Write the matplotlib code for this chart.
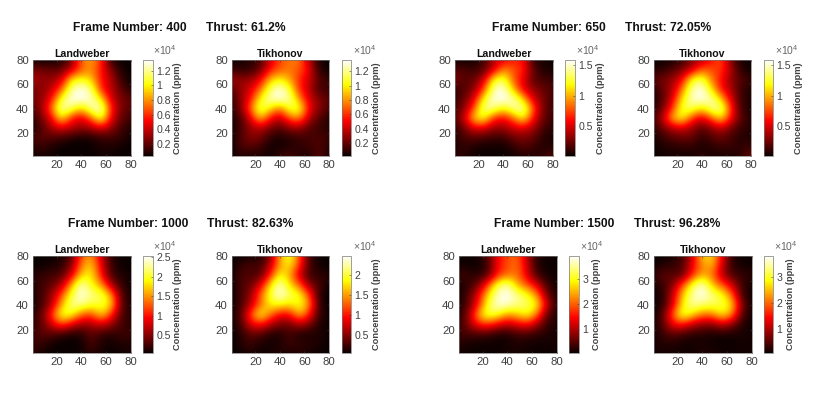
import numpy as np
import matplotlib
matplotlib.use("Agg")
import matplotlib.pyplot as plt

plt.rcParams['font.family'] = ['Liberation Sans', 'DejaVu Sans']
plt.rcParams['mathtext.default'] = 'regular'

W, H = 828, 393
GRAY = '#404040'

frames = ['Frame Number: 400', 'Frame Number: 650', 'Frame Number: 1000', 'Frame Number: 1500']
thrusts = ['Thrust: 61.2%', 'Thrust: 72.05%', 'Thrust: 82.63%', 'Thrust: 96.28%']
method_names = ['Landweber', 'Tikhonov']
axis_ticks = [20, 40, 60, 80]

# colour limits, units of 1e4 ppm
clims = [[(0.03, 1.35), (0.02, 1.36)], [(0.02, 1.58), (0.02, 1.58)],
         [(0.05, 2.53), (0.06, 2.46)], [(0.05, 3.93), (0.06, 3.80)]]
cticks = [[[0.2, 0.4, 0.6, 0.8, 1, 1.2]] * 2, [[0.5, 1, 1.5]] * 2,
          [[0.5, 1, 1.5, 2, 2.5], [0.5, 1, 1.5, 2]], [[1, 2, 3]] * 2]

# sampled every 8 units, rows y=80..0, columns x=0..80; percent of colour scale
grid_x = np.arange(0, 81, 8)
f400_L = [[2,2,2,5,15,55,62,45,5,2,2],[18,18,15,15,30,50,60,40,20,5,2],[28,22,22,30,72,78,68,40,28,8,3],
          [18,20,28,50,90,100,88,42,28,15,5],[18,22,38,80,100,100,95,72,32,18,15],[12,22,55,95,85,65,92,98,42,18,12],
          [5,18,35,75,40,32,50,85,35,15,10],[3,12,25,32,28,22,25,32,22,10,5],[10,15,12,10,5,3,4,8,10,8,3],
          [6,8,5,2,2,2,3,5,5,3,2],[3,5,3,2,2,2,2,4,3,2,2]]
f400_T = [[3,3,5,10,30,48,55,55,25,3,2],[8,6,8,15,40,50,55,50,35,5,2],[25,22,22,35,65,75,62,42,30,12,8],
          [12,22,32,52,85,100,80,42,28,8,10],[8,20,38,75,95,98,92,58,30,20,12],[5,18,52,88,72,52,82,82,35,20,10],
          [3,10,32,68,38,26,50,58,25,12,5],[2,10,22,26,18,12,20,22,12,8,5],[2,12,20,18,6,3,6,8,10,12,8],
          [2,10,12,8,3,4,5,8,8,12,5],[2,5,3,5,2,8,12,5,3,15,3]]
f650_L = [[2,2,2,8,25,35,40,40,5,3,2],[12,12,8,12,30,58,50,42,15,4,3],[20,12,15,28,75,85,50,35,12,10,8],
          [6,12,18,45,92,100,65,33,22,15,10],[6,15,30,75,98,100,95,68,30,18,8],[10,18,48,90,90,72,90,95,52,15,10],
          [10,28,68,80,42,36,50,78,38,15,8],[5,15,32,32,22,22,30,32,24,10,5],[5,10,12,10,8,8,15,18,15,5,3],
          [2,8,4,2,2,2,6,12,8,5,6],[8,5,2,2,2,2,2,4,4,8,12]]
f650_T = [[2,2,3,8,18,28,38,50,15,3,2],[5,6,12,18,30,52,48,45,25,5,2],[12,18,22,36,78,85,55,38,20,12,8],
          [4,15,25,55,92,100,70,38,25,8,4],[3,12,32,72,95,100,92,66,30,8,4],[5,15,45,82,85,68,90,92,42,8,4],
          [8,28,65,78,44,30,50,72,36,12,5],[5,15,26,30,22,12,20,28,15,8,5],[2,8,12,15,15,6,12,15,10,5,4],
          [2,4,5,6,6,3,5,8,8,6,10],[2,2,3,3,3,8,3,4,3,6,18]]
f1000_L = [[2,2,2,4,10,50,60,30,6,2,2],[2,2,4,6,20,55,70,35,8,3,2],[6,8,10,12,30,68,75,40,10,5,3],
           [5,10,14,25,62,98,75,62,25,8,3],[3,10,22,48,80,100,88,85,62,12,4],[3,10,25,62,90,90,80,80,72,15,4],
           [6,14,45,82,78,52,46,72,45,12,6],[6,14,30,48,32,22,24,30,22,10,7],[8,14,12,6,3,5,14,8,5,10,8],
           [8,8,3,2,2,3,12,5,3,5,5],[8,3,2,2,2,3,6,3,2,3,5]]
f1000_T = [[2,2,3,4,15,65,82,50,6,3,2],[3,8,12,10,28,60,75,45,12,4,2],[3,12,12,12,40,78,62,30,8,8,6],
           [2,12,15,32,70,98,70,52,20,12,3],[2,10,22,52,80,100,85,78,48,5,2],[3,10,26,52,75,76,70,80,58,8,2],
           [3,12,48,80,56,36,38,66,42,8,3],[3,10,33,40,26,18,16,26,18,5,3],[2,6,14,12,5,4,12,4,4,6,3],
           [2,6,10,5,4,6,10,8,8,5,2],[2,3,5,3,4,6,4,6,3,3,2]]
f1500_L = [[2,2,2,10,35,48,52,25,3,2,2],[2,2,2,8,38,48,55,30,5,2,2],[10,8,5,10,40,52,55,32,8,3,2],
           [3,6,15,45,82,95,62,50,32,8,3],[2,10,32,68,95,100,90,78,58,15,4],[2,12,36,78,98,96,88,85,75,30,4],
           [4,18,60,85,78,60,66,78,55,12,4],[6,18,40,44,33,26,33,38,22,7,4],[8,10,8,8,3,3,8,8,6,4,3],
           [5,3,2,2,2,3,5,3,2,3,3],[3,2,2,2,2,3,3,2,2,2,2]]
f1500_T = [[2,2,3,6,30,70,72,35,4,2,2],[2,4,8,12,35,58,65,30,6,3,2],[6,15,12,12,42,62,55,25,10,8,6],
           [3,8,18,48,80,100,65,50,30,8,3],[2,5,28,66,92,100,88,78,52,8,2],[2,5,30,72,92,86,84,82,70,18,2],
           [2,12,50,85,70,54,55,75,58,12,2],[2,12,36,40,26,20,18,28,18,5,2],[3,8,12,8,5,5,3,3,3,4,3],
           [4,5,5,3,3,4,3,2,2,3,3],[3,3,3,3,3,5,4,3,3,3,3]]
fields = [[f400_L, f400_T], [f650_L, f650_T], [f1000_L, f1000_T], [f1500_L, f1500_T]]

# layout in reference pixels: heatmap (left, right), colourbar (left, right), label centre, x10^4 left
rows_px = [(60, 156), (60, 156), (256, 353), (256, 353)]
panels_px = [[(33, 131, 143, 153, 178, 153), (232, 329, 342, 351, 377, 353)],
             [(455, 553, 565, 575, 601, 576), (654, 751, 764, 773, 799, 775)],
             [(33, 131, 143, 153, 178, 153), (232, 329, 342, 351, 377, 353)],
             [(459, 557, 569, 579, 597, 580), (654, 752, 764, 773, 791, 774)]]
head_px = [(73, 206, 28), (492, 625, 28), (68, 207, 224), (494, 634, 224)]


def box(l, r, t, b):
    return [l / W, 1 - b / H, (r - l) / W, (b - t) / H]


fig = plt.figure(figsize=(W / 100, H / 100), dpi=100)
d = 4
for i in range(4):
    top, bottom = rows_px[i]
    for x_h, s_h in zip(head_px[i][:2], (frames[i], thrusts[i])):
        fig.text(x_h / W, 1 - head_px[i][2] / H, s_h, fontsize=8.7, fontweight='bold',
                 va='center', ha='left', color='#111111')
    for j in range(2):
        l, r, cl, cr, lab_x, off_x = panels_px[i][j]
        vmin, vmax = clims[i][j]
        ax = fig.add_axes(box(l, r, top, bottom))
        z = np.array(fields[i][j], float) / 100 * vmax
        im = ax.imshow(z, cmap='hot', vmin=vmin, vmax=vmax, interpolation='bicubic',
                       extent=[grid_x[0] - d, grid_x[-1] + d, grid_x[0] - d, grid_x[-1] + d],
                       aspect='auto', origin='upper')
        ax.set_xlim(1, 80)
        ax.set_ylim(1, 80)
        ax.set_xticks(axis_ticks)
        ax.set_yticks(axis_ticks)
        ax.tick_params(direction='in', length=1.5, width=0.4, labelsize=8.2, colors=GRAY, pad=3,
                       top=True, right=True)
        for s in ax.spines.values():
            s.set_color('#777777')
            s.set_linewidth(0.5)
        ax.set_title(method_names[j], fontsize=7.6, fontweight='bold', pad=2.5, color='#111111')

        cax = fig.add_axes(box(cl, cr, top, bottom))
        cb = fig.colorbar(im, cax=cax)
        cb.set_ticks(cticks[i][j])
        cb.set_ticklabels([f'{t:g}' for t in cticks[i][j]])
        cb.ax.tick_params(direction='in', length=1.5, width=0.4, labelsize=7.6, colors=GRAY, pad=2.5)
        cb.outline.set_edgecolor('#777777')
        cb.outline.set_linewidth(0.5)
        fig.text(lab_x / W, 1 - (top + bottom) / 2 / H, 'Concentration (ppm)', fontsize=6.7,
                 fontweight='bold', color=GRAY, rotation=90, ha='center', va='center')
        fig.text(off_x / W, 1 - (top - 3) / H, r'$\times10^{4}$', fontsize=7.5, color='#666666',
                 ha='left', va='bottom')

fig.savefig('out.png', dpi=100)
